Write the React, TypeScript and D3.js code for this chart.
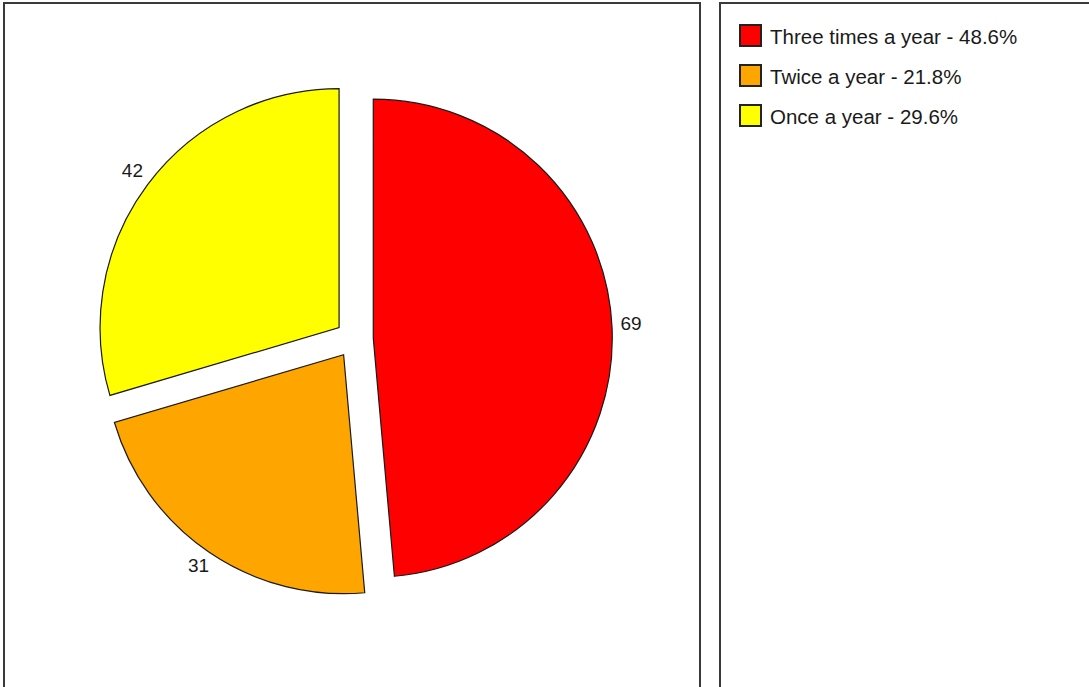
import React from "react";
import * as d3 from "d3";

const categories = ["Three times a year", "Twice a year", "Once a year"];
const values = [69, 31, 42];
const colors = ["#FF0000", "#FFA500", "#FFFF00"];

const W = 1089;
const H = 687;

export default function App() {
  const cx = 354.3;
  const cy = 339;
  const r = 239;
  const explode = 19;
  const labelR = 258;
  const total = d3.sum(values);
  const pie = d3.pie<number>().sort(null).value((d) => d)(values);
  const arc = d3.arc<d3.PieArcDatum<number>>().innerRadius(0).outerRadius(r);

  const legendX = 739;
  const legendY = 24;
  const rowH = 40;
  const sw = 22;

  return (
    <svg
      width={W}
      height={H}
      style={{ position: "absolute", left: 0, top: 0, background: "#fff" }}
      fontFamily="'Liberation Sans', Arial, sans-serif"
    >
      <rect x={4} y={3} width={696} height={720} fill="#fff" stroke="#3a3a3a" strokeWidth={2} />
      <rect x={720} y={3} width={400} height={720} fill="#fff" stroke="#3a3a3a" strokeWidth={2} />
      {pie.map((p, i) => {
        const mid = (p.startAngle + p.endAngle) / 2;
        const dx = Math.sin(mid) * explode;
        const dy = -Math.cos(mid) * explode;
        const lx = Math.sin(mid) * labelR;
        const ly = -Math.cos(mid) * labelR;
        return (
          <g key={i} transform={`translate(${cx + dx},${cy + dy})`}>
            <path d={arc(p) || ""} fill={colors[i]} stroke="#1a1a1a" strokeWidth={1.2} />
            <text
              x={lx}
              y={ly}
              dy={-3}
              textAnchor="middle"
              dominantBaseline="central"
              fontSize={19}
              fill="#1a1a1a"
            >
              {values[i]}
            </text>
          </g>
        );
      })}
      {categories.map((c, i) => (
        <g key={c} transform={`translate(${legendX},${legendY + i * rowH})`}>
          <rect x={1} y={1} width={sw - 1} height={sw - 1} fill={colors[i]} stroke="#222" strokeWidth={2} />
          <text x={31} y={sw / 2 + 1} dominantBaseline="central" fontSize={20.5} fill="#1a1a1a">
            {`${c} - ${((values[i] / total) * 100).toFixed(1)}%`}
          </text>
        </g>
      ))}
    </svg>
  );
}
